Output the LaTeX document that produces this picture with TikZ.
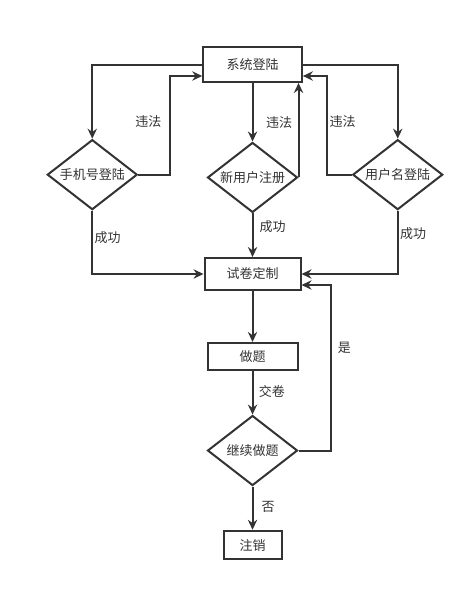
\documentclass[tikz,border=0pt]{standalone}
\usepackage{fontspec}
\setmainfont{Noto Sans CJK SC}
\usepackage{tikz}
\usetikzlibrary{arrows.meta,positioning,shapes.geometric}
\usepackage{xcolor}
\definecolor{linegray}{HTML}{333333}

\begin{document}
\begin{tikzpicture}[>={Stealth[length=7.5pt,width=7pt,inset=2.5pt]},line width=1.5pt,color=linegray,node distance=2cm,on grid,
	every node/.style={font=\fontsize{9.75}{11}\selectfont},
	block/.style={rectangle,draw,fill=white,inner sep=0pt},
	decision/.style={diamond,aspect=1.3,draw,fill=white,inner sep=0pt,minimum width=67.5pt,minimum height=52.5pt},
	lbl/.style={inner sep=1pt}]
			  \useasboundingbox (-189.4pt,48.5pt) rectangle (166.9pt,-395.5pt);
			  \node[block,minimum width=74pt,minimum height=26pt]   (login)                                       {系统登陆};
			  \node[decision]                                       (phone)  [below left =82.5pt and 120.2pt of login]  {手机号登陆};
			  \node[decision]                                       (reg)    [below =84.6pt of login]                 {新用户注册};
			  \node[decision]                                       (user)   [below right =82.5pt and 108.9pt of login] {用户名登陆};
			  \node[block,minimum width=72pt,minimum height=24pt]   (custom) [below =72.4pt of reg]                   {试卷定制};
			  \node[block,minimum width=67.5pt,minimum height=20pt] (exam)   [below =61.7pt of custom]                {做题};
			  \node[decision]                                       (cont)   [below =70.7pt of exam]                  {继续做题};
			  \node[block,minimum width=43.5pt,minimum height=21.5pt] (logout) [below =70.9pt of cont]                {注销};

			  \coordinate (loginL)  at ([yshift=-8.5pt]login.west);
			  \coordinate (loginR)  at ([yshift=-8.5pt]login.east);
			  \coordinate (customR) at ([yshift=-8.25pt]custom.east);

			  % login paths
			  \draw[->] (login.west) -| (phone.north);
			  \draw[->] (phone.east) -- ++(24pt,0) |- node[lbl,left=5pt,pos=0.27] {违法} (loginL);
			  \draw[->] (login.south) -- (reg.north);
			  \draw[->] (reg.east) -- node[lbl,left=3pt,pos=0.58] {违法} (reg.east |- login.south);
			  \draw[->] (login.east) -| (user.north);
			  \draw[->] (user.west) -- ++(-18.3pt,0) |- node[lbl,right=0pt,pos=0.27] {违法} (loginR);

			  \draw[->] (phone.south) |- node[lbl,right=0pt,pos=0.21] {成功} (custom.west);
			  \draw[->] (reg.south) -- node[lbl,right=3.5pt,pos=0.31] {成功} (custom.north);
			  \draw[->] (user.south) |- node[lbl,right=0pt,pos=0.18] {成功} (custom.east);

			  % exam loop
			  \draw[->] (custom.south) -- (exam.north);
			  \draw[->] (exam.south) -- node[lbl,right=3pt,pos=0.47] {交卷} (cont.north);
			  \draw[->] (cont.east) -- ++(24.7pt,0) |- node[lbl,right=3pt,pos=0.31] {是} (customR);
			  \draw[->] (cont.south) -- node[lbl,right=5pt,pos=0.47] {否} (logout.north);
\end{tikzpicture}
\end{document}
